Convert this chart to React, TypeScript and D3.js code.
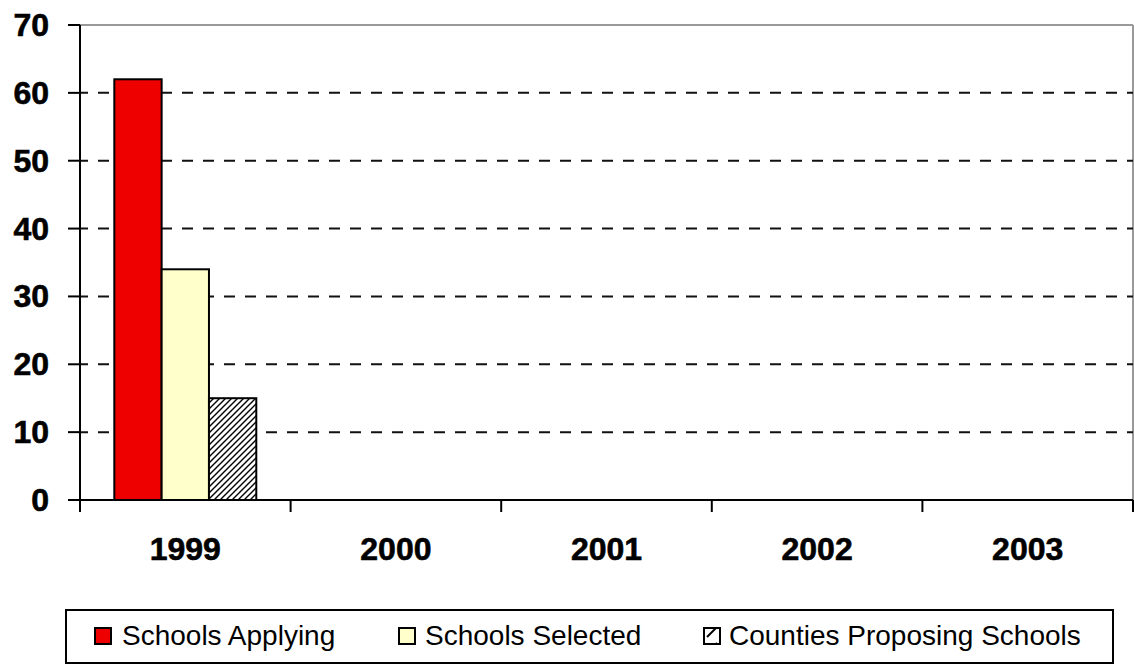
import React from "react";
import * as d3 from "d3";

const years = ["1999", "2000", "2001", "2002", "2003"];
const seriesNames = ["Schools Applying", "Schools Selected", "Counties Proposing Schools"];
const schoolsApplying: (number | null)[] = [62, null, null, null, null];
const schoolsSelected: (number | null)[] = [34, null, null, null, null];
const countiesProposing: (number | null)[] = [15, null, null, null, null];
const yTicks = [0, 10, 20, 30, 40, 50, 60, 70];

const seriesValues = [schoolsApplying, schoolsSelected, countiesProposing];
const seriesFills = ["#EE0000", "#FFFFCC", "url(#hatch)"];

const W = 1134;
const H = 665;
const plot = { left: 80, right: 1133, top: 25, bottom: 500 };

export default function App() {
  const x0 = d3.scaleBand<string>().domain(years).range([plot.left, plot.right]).paddingInner(0).paddingOuter(0);
  const x1 = d3
    .scaleBand<string>()
    .domain(seriesNames)
    .range([0, x0.bandwidth()])
    .paddingInner(0)
    .paddingOuter(0.725);
  const y = d3.scaleLinear().domain([0, 70]).range([plot.bottom, plot.top]);

  const legendItems = [
    { name: seriesNames[0], fill: seriesFills[0], mx: 95, tx: 122 },
    { name: seriesNames[1], fill: seriesFills[1], mx: 399, tx: 425 },
    { name: seriesNames[2], fill: "url(#hatchSmall)", mx: 704, tx: 729 },
  ];

  const boundaries = [...years.map((yr) => x0(yr)!), plot.right];

  return (
    <svg
      width={W}
      height={H}
      style={{ position: "absolute", left: 0, top: 0, display: "block", background: "#fff" }}
      fontFamily="'Liberation Sans', Arial, sans-serif"
    >
      <defs>
        <pattern id="hatch" patternUnits="userSpaceOnUse" width={6} height={6}>
          <rect width={6} height={6} fill="#fff" />
          <path d="M-1,7 L7,-1 M-4,4 L4,-4 M2,10 L10,2" stroke="#000" strokeWidth={1.4} />
        </pattern>
        <pattern id="hatchSmall" patternUnits="userSpaceOnUse" width={16} height={16}>
          <rect width={16} height={16} fill="#fff" />
          <path d="M3,13 L13,3" stroke="#000" strokeWidth={2} />
        </pattern>
      </defs>
      <rect x={0} y={0} width={W} height={H} fill="#fff" />

      {/* top and right border */}
      <line x1={plot.left} x2={plot.right} y1={plot.top} y2={plot.top} stroke="#999" strokeWidth={2} />
      <line x1={plot.right} x2={plot.right} y1={plot.top} y2={plot.bottom} stroke="#999" strokeWidth={2} />

      {/* gridlines */}
      {yTicks
        .filter((t) => t > 0 && t < 70)
        .map((t) => (
          <line
            key={"g" + t}
            x1={plot.left}
            x2={plot.right}
            y1={y(t)}
            y2={y(t)}
            stroke="#111"
            strokeWidth={2}
            strokeDasharray="11 10"
            strokeDashoffset={3}
          />
        ))}

      {/* bars */}
      {seriesValues.map((vals, si) =>
        vals.map((v, i) =>
          v == null ? null : (
            <rect
              key={`b${si}-${i}`}
              x={x0(years[i])! + x1(seriesNames[si])!}
              y={y(v)}
              width={x1.bandwidth()}
              height={y(0) - y(v)}
              fill={seriesFills[si]}
              stroke="#000"
              strokeWidth={2}
            />
          )
        )
      )}

      {/* y axis */}
      <line x1={plot.left} x2={plot.left} y1={plot.top} y2={plot.bottom + 12} stroke="#000" strokeWidth={2} />
      {yTicks.map((t) => (
        <g key={"yt" + t}>
          <line x1={plot.left - 12} x2={plot.left} y1={y(t)} y2={y(t)} stroke="#000" strokeWidth={2} />
          <text
            x={49}
            y={y(t)}
            textAnchor="end"
            dominantBaseline="central"
            fontWeight="bold"
            fontSize={32}
            fill="#000"
            stroke="#000"
            strokeWidth={0.6}
          >
            {t}
          </text>
        </g>
      ))}

      {/* x axis */}
      <line x1={plot.left} x2={plot.right} y1={plot.bottom} y2={plot.bottom} stroke="#000" strokeWidth={2} />
      {boundaries.map((bx, i) => (
        <line key={"xt" + i} x1={bx} x2={bx} y1={plot.bottom} y2={plot.bottom + 12} stroke="#000" strokeWidth={2} />
      ))}
      {years.map((yr) => (
        <text
          key={"xl" + yr}
          x={x0(yr)! + x0.bandwidth() / 2}
          y={549}
          textAnchor="middle"
          dominantBaseline="central"
          fontWeight="bold"
          fontSize={32}
          fill="#000"
          stroke="#000"
          strokeWidth={0.6}
        >
          {yr}
        </text>
      ))}

      {/* legend */}
      <rect x={66} y={610} width={1047} height={53} fill="#fff" stroke="#000" strokeWidth={2} />
      {legendItems.map((it) => (
        <g key={it.name}>
          <rect x={it.mx} y={628} width={16} height={16} fill={it.fill} stroke="#000" strokeWidth={2} />
          <text x={it.tx} y={645} fontSize={28} fill="#000">
            {it.name}
          </text>
        </g>
      ))}
    </svg>
  );
}
